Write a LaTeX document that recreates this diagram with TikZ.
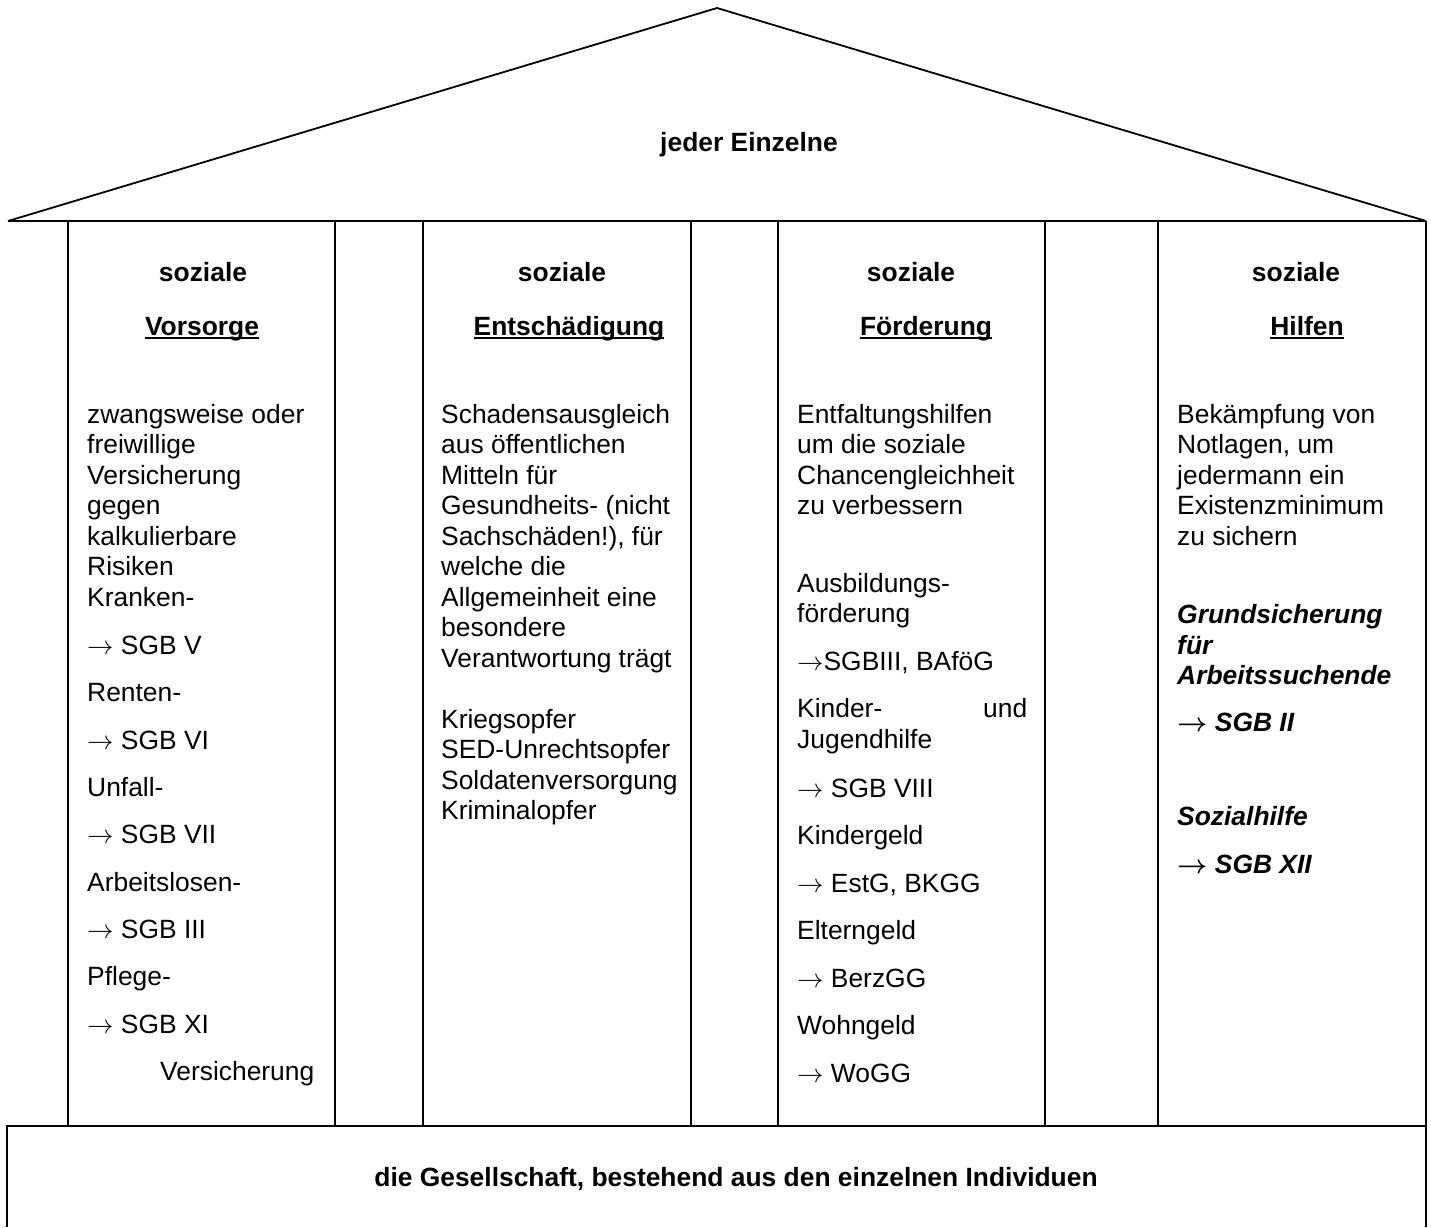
\RequirePackage{fix-cm}
\documentclass[tikz,border=0pt]{standalone}
\usepackage{fontspec}
\setmainfont{Liberation Sans}
\usepackage{bm}
\newcommand\bodyfont{\fontsize{26.4}{30.5}\selectfont}
\newcommand\ulhead[1]{\setbox0\hbox{#1}\rlap{\rule[-3.5pt]{\wd0}{1.8pt}}\box0}
\newcommand\thinar{$\rightarrow$}
\newcommand\boldar{$\bm{\rightarrow}$}
\tikzset{
  wall/.style={line width=1.8pt, line join=miter},
  txt/.style={anchor=base west, inner sep=0pt, font=\bodyfont},
  head/.style={anchor=base, inner sep=0pt, font=\bodyfont\bfseries},
  bi/.style={anchor=base west, inner sep=0pt, font=\bodyfont\bfseries\itshape}
}
\begin{document}
\begin{tikzpicture}[x=1pt,y=-1pt]
\useasboundingbox (0,0) rectangle (1431,1227);
% roof
\coordinate (rl) at (8,221);
\coordinate (apex) at (717,8);
\coordinate (rr) at (1426,221);
\draw[wall] (rl) -- (apex) -- (rr);
\draw[wall] (rl) -- (rr);
% columns
\foreach \x [count=\i] in {68,335,423,691,778,1045,1158}{
  \coordinate (ct\i) at (\x,221);
  \coordinate (cb\i) at (\x,1126);
  \draw[wall] (ct\i) -- (cb\i);
}
\coordinate (rb) at (1426,1227);
\draw[wall] (rr) -- (rb);
% base box
\coordinate (bl) at (7,1227);
\coordinate (btl) at (7,1126);
\coordinate (btr) at (1426,1126);
\draw[wall] (bl) -- (btl) -- (btr);

\node[head] (roof) at (749,151) {jeder Einzelne};
\node[head] (base) at (736,1186.5) {die Gesellschaft, bestehend aus den einzelnen Individuen};

% headings
\node[head] (h1a) at (203,281.5) {soziale};
\node[head] (h1b) at (202,335.5) {\ulhead{Vorsorge}};
\node[head] (h2a) at (562,281.5) {soziale};
\node[head] (h2b) at (569,335.5) {\ulhead{Entschädigung}};
\node[head] (h3a) at (911,281.5) {soziale};
\node[head] (h3b) at (926,335.5) {\ulhead{Förderung}};
\node[head] (h4a) at (1296,281.5) {soziale};
\node[head] (h4b) at (1307,335.5) {\ulhead{Hilfen}};

% column 1
\foreach \t/\y [count=\i] in {
  {zwangsweise oder}/423, {freiwillige}/453.5, {Versicherung}/484,
  {gegen}/514.5, {kalkulierbare}/545, {Risiken}/575.5, {Kranken-}/606,
  {\thinar{} SGB V}/654.5, {Renten-}/701.5, {\thinar{} SGB VI}/749,
  {Unfall-}/796.5, {\thinar{} SGB VII}/843.5, {Arbeitslosen-}/891,
  {\thinar{} SGB III}/938.5, {Pflege-}/985.5, {\thinar{} SGB XI}/1033}
  \node[txt] (a\i) at (87,\y) {\t};
\node[txt] (a17) at (160,1080.5) {Versicherung};

% column 2
\foreach \t/\y [count=\i] in {
  {Schadensausgleich}/423, {aus öffentlichen}/453.5, {Mitteln für}/484,
  {Gesundheits- (nicht}/514.5, {Sachschäden!), für}/545, {welche die}/575.5,
  {Allgemeinheit eine}/606, {besondere}/636.5, {Verantwortung trägt}/667,
  {Kriegsopfer}/728, {SED-Unrechtsopfer}/758.5, {Soldatenversorgung}/789,
  {Kriminalopfer}/819.5}
  \node[txt] (b\i) at (441,\y) {\t};

% column 3
\foreach \t/\y [count=\i] in {
  {Entfaltungshilfen}/423, {um die soziale}/453.5, {Chancengleichheit}/484,
  {zu verbessern}/514.5, {Ausbildungs-}/592, {förderung}/622.5,
  {\thinar{}SGBIII, BAföG}/670.5,
  {\makebox[230pt][l]{Kinder-\hfill und}}/717.5, {Jugendhilfe}/748.5,
  {\thinar{} SGB VIII}/797.5, {Kindergeld}/844.5, {\thinar{} EstG, BKGG}/892,
  {Elterngeld}/939.5, {\thinar{} BerzGG}/987, {Wohngeld}/1034.5, {\thinar{} WoGG}/1082}
  \node[txt] (c\i) at (797,\y) {\t};

% column 4
\foreach \t/\y [count=\i] in {
  {Bekämpfung von}/423, {Notlagen, um}/453.5, {jedermann ein}/484,
  {Existenzminimum}/514.5, {zu sichern}/545}
  \node[txt] (d\i) at (1177,\y) {\t};
\foreach \t/\y [count=\i] in {
  {Grundsicherung}/623.5, {für}/654, {Arbeitssuchende}/684.5,
  {\boldar{} SGB II}/731.5, {Sozialhilfe}/825.5, {\boldar{} SGB XII}/873.5}
  \node[bi] (e\i) at (1177,\y) {\t};
\end{tikzpicture}
\end{document}
